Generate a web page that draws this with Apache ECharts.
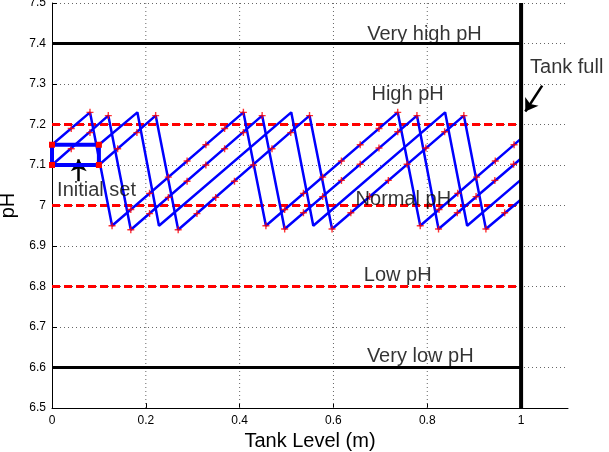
<!DOCTYPE html>
<html>
<head>
<meta charset="utf-8">
<script src="https://cdn.jsdelivr.net/npm/echarts@6/dist/echarts.min.js"></script>
<style>
html, body { margin: 0; padding: 0; background: #fff; }
#chart { width: 609px; height: 452px; }
</style>
</head>
<body>
<div id="chart"></div>
<script>
// tick values
var xGridTicks = [0.2, 0.4, 0.6, 0.8, 1.0];

// limits (pH) and tank level
var hardLimits = [7.4, 6.6];
var softLimits = [7.2, 7.0, 6.8];
var tankFull = 1.0;

// initial set corners
var initialSet = [[0, 7.1], [0.1, 7.1], [0.1, 7.15], [0, 7.15], [0, 7.1]];

// trajectory vertices (tank level, pH)
var trajA = [[0, 7.15], [0.081, 7.23], [0.128, 6.95], [0.408, 7.23], [0.456, 6.95], [0.737, 7.23], [0.785, 6.95], [1.0, 7.165]];
var trajB = [[0, 7.10], [0.120, 7.222], [0.168, 6.94], [0.448, 7.222], [0.496, 6.942], [0.778, 7.222], [0.824, 6.942], [1.0, 7.116]];
var trajC = [[0.1, 7.15], [0.182, 7.23], [0.228, 6.95], [0.510, 7.23], [0.557, 6.95], [0.838, 7.23], [0.885, 6.95], [1.0, 7.064]];
var trajD = [[0.1, 7.10], [0.221, 7.222], [0.269, 6.94], [0.549, 7.222], [0.597, 6.942], [0.878, 7.222], [0.925, 6.942], [1.0, 7.015]];

// sampled points ('+' markers)
var marksA = [[0.041, 7.19], [0.081, 7.23], [0.128, 6.95], [0.168, 6.99], [0.208, 7.03], [0.248, 7.07], [0.288, 7.11],
              [0.328, 7.15], [0.368, 7.19], [0.408, 7.23], [0.456, 6.95], [0.496, 6.99], [0.536, 7.03], [0.577, 7.07],
              [0.617, 7.11], [0.657, 7.15], [0.697, 7.19], [0.737, 7.23], [0.785, 6.95], [0.825, 6.99], [0.865, 7.03],
              [0.905, 7.07], [0.945, 7.11], [0.985, 7.15]];
var marksB = [[0.041, 7.14], [0.081, 7.18], [0.120, 7.222], [0.168, 6.94], [0.208, 6.98], [0.248, 7.02], [0.288, 7.06],
              [0.328, 7.10], [0.368, 7.14], [0.408, 7.18], [0.448, 7.222], [0.496, 6.942], [0.536, 6.982], [0.577, 7.022],
              [0.617, 7.062], [0.657, 7.102], [0.697, 7.142], [0.737, 7.182], [0.778, 7.222], [0.824, 6.942], [0.864, 6.982],
              [0.904, 7.022], [0.944, 7.062], [0.984, 7.102]];
var marksD = [[0.140, 7.14], [0.181, 7.18], [0.221, 7.222], [0.269, 6.94], [0.309, 6.98], [0.349, 7.02], [0.389, 7.06],
              [0.429, 7.10], [0.469, 7.14], [0.509, 7.18], [0.549, 7.222], [0.597, 6.942], [0.637, 6.982], [0.677, 7.022],
              [0.717, 7.062], [0.757, 7.102], [0.797, 7.142], [0.837, 7.182], [0.878, 7.222], [0.925, 6.942], [0.965, 6.982]];

var FONT = 'Liberation Sans, Arial, Helvetica, sans-serif';
var PLUS = 'path://M0,4H10V6H0Z M4,0H6V10H4Z';

function segment(pts, color, width, type, z) {
	return {
		type: 'line',
		data: pts,
		symbol: 'none',
		silent: true,
		animation: false,
		lineStyle: { color: color, width: width, type: type || 'solid' },
		z: z
	};
}
function marks(pts) {
	return {
		type: 'scatter',
		data: pts,
		symbol: PLUS,
		symbolSize: 7,
		silent: true,
		animation: false,
		itemStyle: { color: '#ff0000' },
		z: 5
	};
}
function note(txt, x, y, align) {
	return {
		type: 'scatter',
		data: [[x, y]],
		symbolSize: 0,
		silent: true,
		animation: false,
		label: {
			show: true, position: [0, 0], formatter: txt,
			align: align || 'center', verticalAlign: 'middle',
			color: '#000', fontFamily: FONT, fontSize: 20
		},
		z: 8
	};
}

var series = [];
// vertical grid lines at the labelled ticks
xGridTicks.forEach(function(v){
	series.push(segment([[v, 6.5], [v, 7.5]], '#666', 1, [1, 3], 1));
});
softLimits.forEach(function(v){
	series.push(segment([[0, v], [tankFull, v]], '#ff0000', 3, [8, 4], 2));
});
hardLimits.forEach(function(v){
	series.push(segment([[0, v], [tankFull, v]], '#000', 3, 'solid', 2));
});
[trajA, trajB, trajC, trajD].forEach(function(t){
	series.push(segment(t, '#0000ff', 2.5, 'solid', 3));
});
series.push(segment([[tankFull, 6.5], [tankFull, 7.5]], '#000', 4, 'solid', 4));
series.push({
	type: 'line',
	data: initialSet,
	symbol: 'rect', symbolSize: 6, showAllSymbol: true,
	silent: true, animation: false,
	lineStyle: { color: '#0000ff', width: 4 },
	itemStyle: { color: '#ff0000' },
	markLine: {
		silent: true, animation: false, symbol: ['none', 'arrow'], symbolSize: 12,
		label: { show: false },
		lineStyle: { color: '#000', width: 2.5, type: 'solid' },
		data: [
			[{ coord: [0.057, 7.06] }, { coord: [0.057, 7.114] }],
			[{ coord: [1.045, 7.296] }, { coord: [1.009, 7.232] }]
		]
	},
	z: 6
});
[marksA, marksB, marksD].forEach(function(m){ series.push(marks(m)); });
series.push(note('Very high pH', 0.794, 7.423));
series.push(note('High pH', 0.758, 7.273));
series.push(note('Normal pH', 0.749, 7.014));
series.push(note('Low pH', 0.737, 6.828));
series.push(note('Very low pH', 0.785, 6.627));
series.push(note('Initial set', 0.095, 7.037));
series.push(note('Tank full', 1.019, 7.34, 'left'));

var option = {
	backgroundColor: '#fff',
	animation: false,
	grid: { left: 52, right: 41, top: 3, bottom: 44, containLabel: false, outerBoundsMode: 'none' },
	xAxis: {
		type: 'value', min: 0, max: 1.1, interval: 0.2,
		name: 'Tank Level (m)', nameLocation: 'middle', nameGap: 22,
		nameTextStyle: { color: '#000', fontFamily: FONT, fontSize: 20 },
		axisLine: { onZero: false, lineStyle: { color: '#000', width: 1 } },
		axisTick: { inside: true, length: 5, lineStyle: { color: '#000' } },
		axisLabel: { color: '#000', fontFamily: FONT, fontSize: 12, margin: 7, showMaxLabel: false },
		splitLine: { show: false },
		minorSplitLine: { show: false }
	},
	yAxis: {
		type: 'value', min: 6.5, max: 7.5, interval: 0.1,
		name: 'pH', nameLocation: 'middle', nameGap: 22,
		nameTextStyle: { color: '#000', fontFamily: FONT, fontSize: 20 },
		axisLine: { lineStyle: { color: '#000', width: 1 } },
		axisTick: { inside: true, length: 5, lineStyle: { color: '#000' } },
		axisLabel: { color: '#000', fontFamily: FONT, fontSize: 12, margin: 6 },
		splitLine: { show: true, lineStyle: { color: '#666', width: 1, type: [1, 3] } }
	},
	series: series
};

var chart = echarts.init(document.getElementById('chart'), null, { renderer: 'canvas' });
chart.setOption(option);
</script>
</body>
</html>
